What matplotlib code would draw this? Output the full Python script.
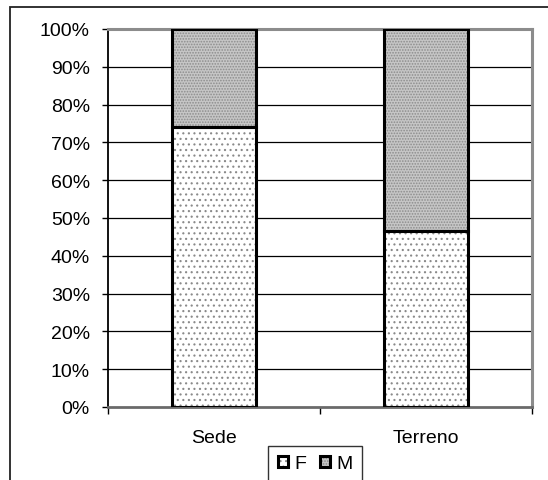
import matplotlib
matplotlib.use('Agg')
import matplotlib.pyplot as plt
from matplotlib.patches import Patch, Rectangle
from matplotlib.ticker import FixedLocator, PercentFormatter

# ── Data ───────────────────────────────────────────
categories = ['Sede', 'Terreno']
share_f = [74.0, 46.5]
share_m = [26.0, 53.5]
series_names = ['F', 'M']

# ── Styles ─────────────────────────────────────────
F_FACE, F_HATCH, F_DOTS = 'white', '...', '#8a8a8a'
M_FACE, M_HATCH, M_DOTS = '#c6c6c6', '......', '#8c8c8c'
FS = 14

plt.rcParams['font.family'] = ['Liberation Sans', 'DejaVu Sans']
plt.rcParams['font.size'] = FS
plt.rcParams['hatch.linewidth'] = 0.8

W, H = 548, 481
fig = plt.figure(figsize=(W / 100, H / 100), dpi=100)
ax = fig.add_axes([108 / W, 1 - 408 / H, 424 / W, 378 / H])

x = range(len(categories))
width = 0.4

# hatched fills first, black outlines on top
ax.bar(x, share_f, width, color=F_FACE, hatch=F_HATCH, edgecolor=F_DOTS,
       linewidth=0, zorder=3)
ax.bar(x, share_m, width, bottom=share_f, color=M_FACE, hatch=M_HATCH,
       edgecolor=M_DOTS, linewidth=0, zorder=3)
ax.bar(x, share_f, width, fill=False, edgecolor='black', linewidth=2.2, zorder=4)
ax.bar(x, share_m, width, bottom=share_f, fill=False, edgecolor='black',
       linewidth=2.2, zorder=4)

ax.set_xlim(-0.5, len(categories) - 0.5)
ax.set_ylim(0, 100)
ax.set_yticks(range(0, 101, 10))
ax.yaxis.set_major_formatter(PercentFormatter(decimals=0))
ax.tick_params(axis='y', direction='out', length=4, width=1, pad=9,
               colors='black', labelsize=FS)

# category labels in the middle, tick marks on the boundaries
ax.set_xticks(list(x))
ax.set_xticklabels(categories)
ax.xaxis.set_minor_locator(FixedLocator([-0.5, 0.5, 1.5]))
ax.tick_params(axis='x', which='major', length=0, pad=16, labelsize=FS)
ax.tick_params(axis='x', which='minor', direction='out', length=5, width=1)

# horizontal grid between 10% and 90%
for v in range(10, 100, 10):
    ax.axhline(v, color='black', linewidth=0.9, zorder=1)

ax.spines['left'].set_color('black')
ax.spines['left'].set_linewidth(1.3)
ax.spines['bottom'].set_color('#6a6a6a')
ax.spines['bottom'].set_linewidth(2)
ax.spines['top'].set_color('#8c8c8c')
ax.spines['top'].set_linewidth(2.2)
ax.spines['right'].set_color('#8c8c8c')
ax.spines['right'].set_linewidth(2.2)

# ── Legend ─────────────────────────────────────────
handles = [
    (Patch(facecolor=F_FACE, hatch=F_HATCH, edgecolor=F_DOTS, linewidth=0),
     Patch(fill=False, edgecolor='black', linewidth=2.2)),
    (Patch(facecolor=M_FACE, hatch=M_HATCH, edgecolor=M_DOTS, linewidth=0),
     Patch(fill=False, edgecolor='black', linewidth=2.2)),
]
leg = fig.legend(handles, series_names, loc='center',
                 bbox_to_anchor=(315 / W, 1 - 465 / H), ncol=2,
                 handlelength=0.55, handleheight=0.55, handletextpad=0.3,
                 columnspacing=0.7, borderpad=0.5, fontsize=FS,
                 fancybox=False, frameon=True)
leg.get_frame().set_edgecolor('black')
leg.get_frame().set_linewidth(1)

# outer chart border (runs off the right and bottom edges)
fig.patches.append(Rectangle((10 / W, -0.2), 1.2, 1 - 8 / H + 0.2,
                             transform=fig.transFigure, fill=False,
                             edgecolor='#222222', linewidth=1.3))

fig.savefig('out.png', dpi=100)
